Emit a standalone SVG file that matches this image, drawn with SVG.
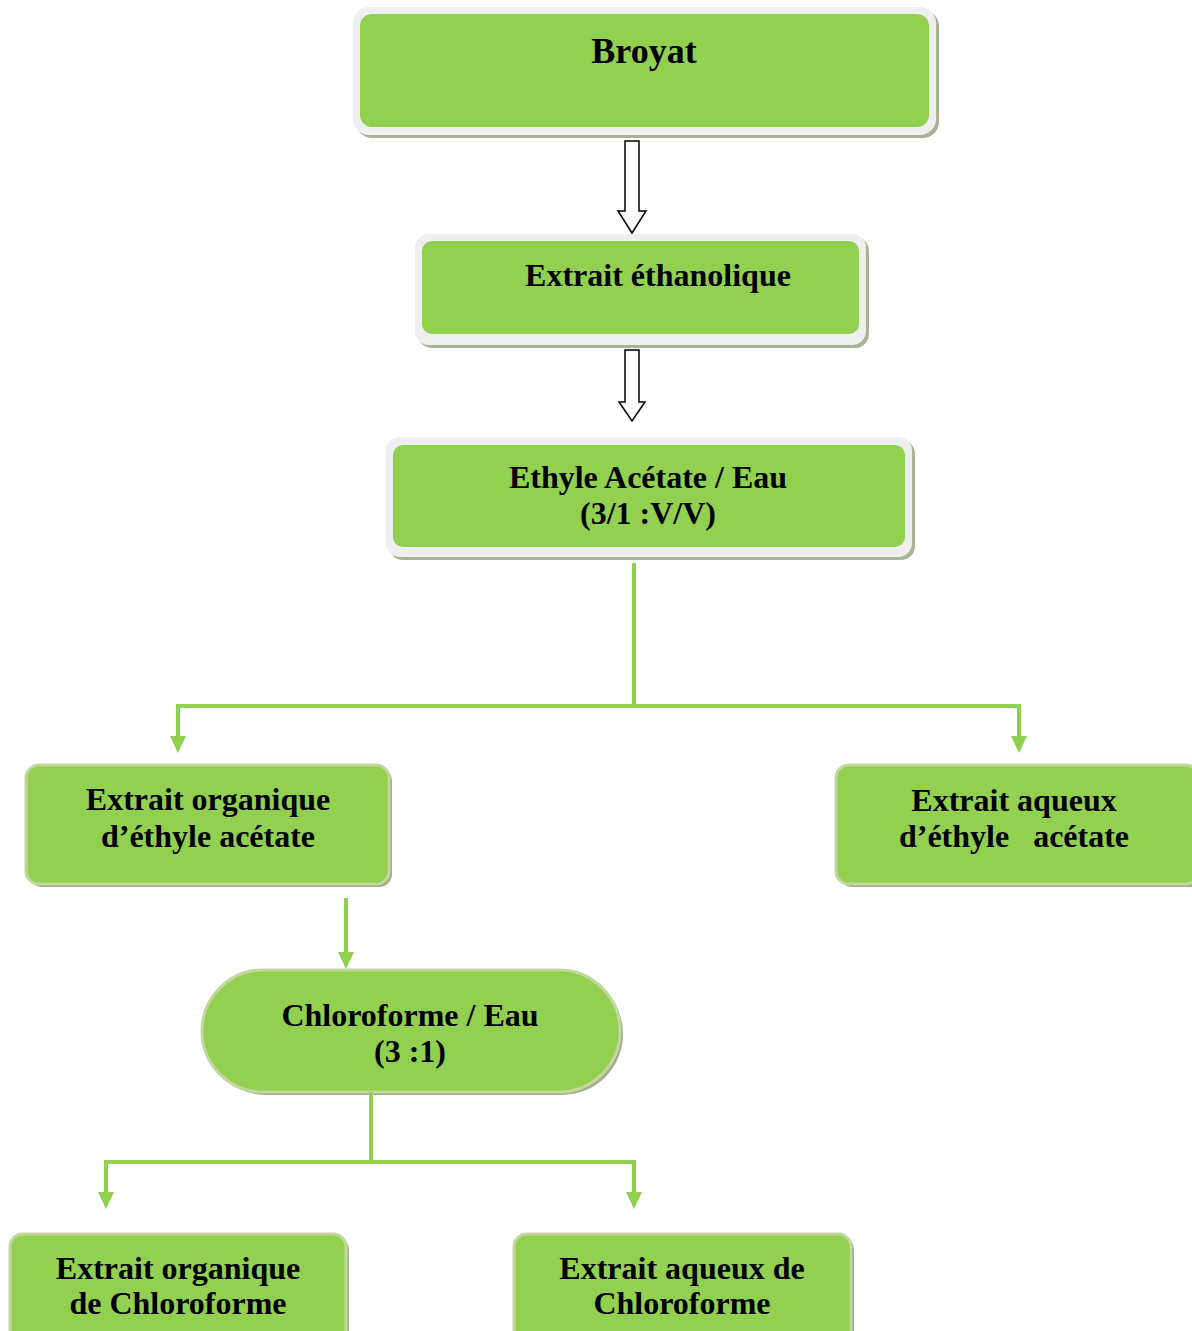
<svg xmlns="http://www.w3.org/2000/svg" width="1192" height="1331" viewBox="0 0 1192 1331">
<style>
.t{font-family:"Liberation Serif","Times New Roman",serif;font-weight:bold;font-size:32px;fill:#000;text-anchor:middle;white-space:pre}
.frame{fill:#efefef}
.shadowA{fill:#a9b396}
.g{fill:#92d050}
.box{fill:#92d050;stroke:#c3d69b;stroke-width:3}
.sh{fill:#a3ad8f}
.c{fill:none;stroke:#92d050;stroke-width:4}
.hollow{fill:#fff;stroke:#000;stroke-width:1.5}
</style>
<defs>
<marker id="ah" viewBox="0 0 10 10" refX="5" refY="10" markerWidth="4.2" markerHeight="4.2" orient="auto-start-reverse" markerUnits="strokeWidth">
<path d="M0,0 L10,0 L5,10 Z" fill="#92d050" transform="rotate(-90 5 5)"/>
</marker>
</defs>
<rect width="1192" height="1331" fill="#fff"/>

<g id="broyat">
<rect class="shadowA" x="356" y="10" width="583" height="128" rx="16"/>
<rect class="frame" x="353" y="7" width="583" height="128" rx="16"/>
<rect class="g" x="360" y="14" width="569" height="113" rx="12"/>
<text class="t" x="644" y="63" style="font-size:36px">Broyat</text>
</g>

<g id="ethanolique">
<rect class="shadowA" x="418" y="237" width="451" height="111" rx="14"/>
<rect class="frame" x="415" y="234" width="451" height="111" rx="14"/>
<rect class="g" x="422" y="241" width="437" height="93" rx="10"/>
<text class="t" x="658" y="286">Extrait éthanolique</text>
</g>

<g id="ethyle">
<rect class="shadowA" x="389" y="440" width="526" height="120" rx="14"/>
<rect class="frame" x="386" y="437" width="526" height="120" rx="14"/>
<rect class="g" x="393" y="445" width="512" height="102" rx="10"/>
<text class="t" x="648" y="488">Ethyle Acétate / Eau</text>
<text class="t" x="648" y="524">(3/1 :V/V)</text>
</g>

<g id="org-ethyle">
<rect class="sh" x="29" y="768" width="363" height="119" rx="13"/>
<rect class="box" x="26" y="765" width="363" height="119" rx="13"/>
<text class="t" x="208" y="810">Extrait organique</text>
<text class="t" x="208" y="847">d’éthyle acétate</text>
</g>

<g id="aq-ethyle">
<rect class="sh" x="839" y="768" width="363" height="119" rx="13"/>
<rect class="box" x="836" y="765" width="363" height="119" rx="13"/>
<text class="t" x="1014" y="811">Extrait aqueux</text>
<text class="t" x="1014" y="847">d’éthyle   acétate</text>
</g>

<g id="chloroforme">
<rect class="sh" x="205" y="973" width="418" height="122" rx="61"/>
<rect class="box" x="202" y="970" width="418" height="122" rx="61"/>
<text class="t" x="410" y="1026">Chloroforme / Eau</text>
<text class="t" x="410" y="1062">(3 :1)</text>
</g>

<g id="org-chloro">
<rect class="sh" x="13" y="1237" width="336" height="110" rx="13"/>
<rect class="box" x="10" y="1234" width="336" height="110" rx="13"/>
<text class="t" x="178" y="1279">Extrait organique</text>
<text class="t" x="178" y="1314">de Chloroforme</text>
</g>

<g id="aq-chloro">
<rect class="sh" x="517" y="1237" width="337" height="110" rx="13"/>
<rect class="box" x="514" y="1234" width="337" height="110" rx="13"/>
<text class="t" x="682" y="1279">Extrait aqueux de</text>
<text class="t" x="682" y="1314">Chloroforme</text>
</g>

<g id="connectors">
<path class="hollow" d="M625,141 H639 V211 H646 L632,233 L618,211 H625 Z"/>
<path class="hollow" d="M625,350 H639 V402 H645 L632,421 L619,402 H625 Z"/>
<path class="c" d="M634,563 V706"/>
<path class="c" d="M634,706 H178 V738"/>
<path class="c" d="M634,706 H1019 V738"/>
<path d="M170,736 H186 L178,753 Z" fill="#92d050"/>
<path d="M1011,736 H1027 L1019,753 Z" fill="#92d050"/>
<path class="c" d="M346,898 V954"/>
<path d="M338,952 H354 L346,969 Z" fill="#92d050"/>
<path class="c" d="M371,1092 V1162"/>
<path class="c" d="M371,1162 H106 V1194"/>
<path class="c" d="M371,1162 H634 V1194"/>
<path d="M98,1192 H114 L106,1209 Z" fill="#92d050"/>
<path d="M626,1192 H642 L634,1209 Z" fill="#92d050"/>
</g>
</svg>
